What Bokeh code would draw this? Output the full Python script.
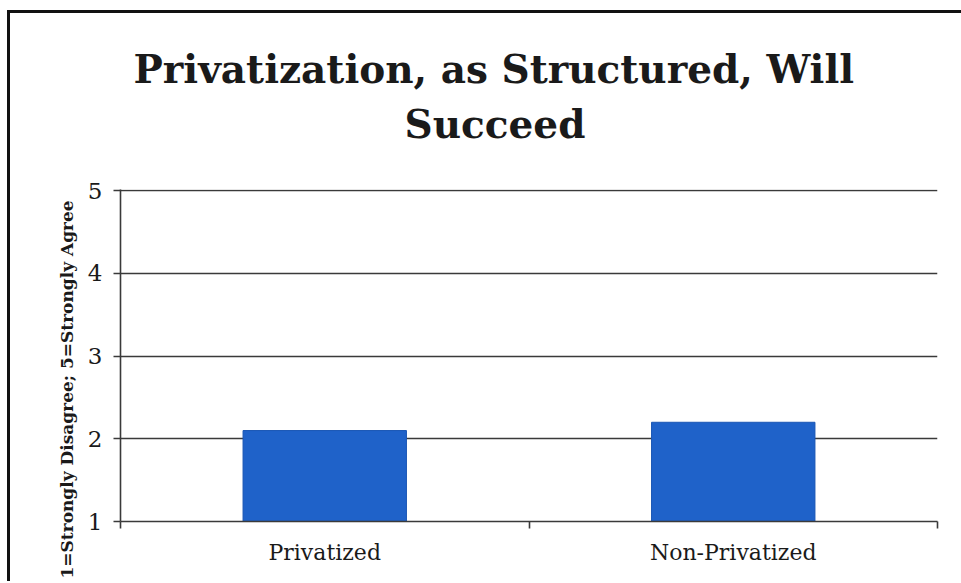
import math
from bokeh.plotting import figure
from bokeh.models import FixedTicker, Title
from bokeh.embed import file_html
from bokeh.resources import INLINE

# ---- data ----
categories = ["Privatized", "Non-Privatized"]
scores = [2.1, 2.2]
y_ticks = [1, 2, 3, 4, 5]
title_lines = ["Privatization, as Structured, Will", "Succeed"]
y_label = "1=Strongly Disagree; 5=Strongly Agree"

x_centers = [i + 0.5 for i in range(len(categories))]
x_bounds = list(range(len(categories) + 1))

SERIF = "DejaVu Serif"
INK = "#1a1a1a"
GRID = "#3a3a3a"

p = figure(
    frame_width=817, frame_height=332,
    min_border_left=110, min_border_right=24,
    min_border_top=176, min_border_bottom=60,
    x_range=(0, len(categories)), y_range=(y_ticks[0], y_ticks[-1] + 0.015),
    output_backend="svg", toolbar_location=None,
)
p.styles = {"border-left": "3px solid #111", "border-top": "3px solid #111",
            "margin-left": "7px", "margin-top": "10px"}
p.outline_line_color = None
p.background_fill_color = "white"
p.border_fill_color = "white"

p.vbar(x=x_centers, top=scores, bottom=y_ticks[0], width=0.4,
       fill_color="#1f62c9", line_color="#1a56b4", line_width=1)

# grid
p.xgrid.grid_line_color = None
p.ygrid.ticker = FixedTicker(ticks=y_ticks)
p.ygrid.grid_line_color = GRID
p.ygrid.grid_line_width = 1.6

# y axis
p.yaxis.ticker = FixedTicker(ticks=y_ticks)
p.yaxis.major_tick_out = 7
p.yaxis.major_tick_in = 0
p.yaxis.minor_tick_line_color = None
p.yaxis.axis_line_color = GRID
p.yaxis.axis_line_width = 1.6
p.yaxis.major_tick_line_color = GRID
p.yaxis.major_tick_line_width = 1.6
p.yaxis.major_label_text_font = SERIF
p.yaxis.major_label_text_font_size = "23px"
p.yaxis.major_label_text_color = INK
p.yaxis.major_label_standoff = 11

# x axis
p.xaxis.ticker = FixedTicker(ticks=x_centers, minor_ticks=x_bounds)
p.xaxis.major_label_overrides = {xc: c for xc, c in zip(x_centers, categories)}
p.xaxis.major_tick_out = 0
p.xaxis.major_tick_in = 0
p.xaxis.minor_tick_out = 7
p.xaxis.minor_tick_in = 0
p.xaxis.minor_tick_line_color = GRID
p.xaxis.minor_tick_line_width = 1.6
p.xaxis.axis_line_color = GRID
p.xaxis.axis_line_width = 1.6
p.xaxis.major_label_text_font = SERIF
p.xaxis.major_label_text_font_size = "22px"
p.xaxis.major_label_text_color = INK
p.xaxis.major_label_standoff = 11

# title (two lines, stacked above the frame, with a spacer below)
p.add_layout(Title(text=" ", text_font_size="10px", standoff=30), "above")
p.add_layout(Title(text=title_lines[1], align="left", offset=284,
                   text_font=SERIF, text_font_style="bold",
                   text_font_size="39px", text_color=INK, standoff=0), "above")
p.add_layout(Title(text=title_lines[0], align="left", offset=13,
                   text_font=SERIF, text_font_style="bold",
                   text_font_size="39px", text_color=INK, standoff=14), "above")

# y axis label as a side title
p.add_layout(Title(text=y_label, align="left", offset=-57,
                   text_font=SERIF, text_font_style="bold",
                   text_font_size="17px", text_color=INK, standoff=16), "left")

open("out.html", "w").write(file_html(p, INLINE))
